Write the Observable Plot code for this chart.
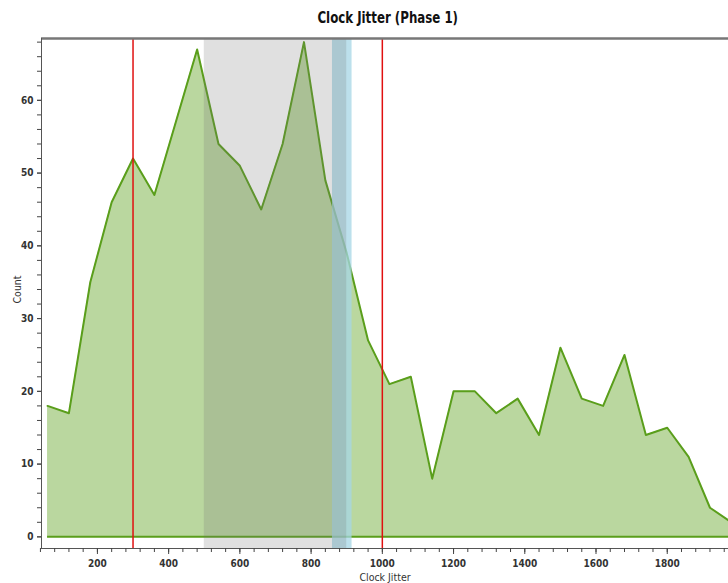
<!DOCTYPE html>
<html>
<head>
<meta charset="utf-8">
<script src="https://cdn.jsdelivr.net/npm/d3@7"></script>
<script src="https://cdn.jsdelivr.net/npm/@observablehq/plot@0.6"></script>
<style>
  html, body { margin: 0; padding: 0; background: #fff; }
  #title { height: 30px; line-height: 36px; text-align: center; padding-left: 48px;
           font-family: "DejaVu Sans Condensed", "DejaVu Sans", sans-serif;
           font-weight: bold; font-size: 16px; color: #111; }
  #title span { display: inline-block; transform: scaleX(0.82); }
  #chart svg { display: block; }
</style>
</head>
<body>
<div id="title"><span>Clock Jitter (Phase 1)</span></div>
<div id="chart"></div>
<script>
// Histogram bins (Clock Jitter) and counts
const bins = [60,120,180,240,300,360,420,480,540,600,660,720,780,840,900,960,1020,1080,1140,1200,1260,1320,1380,1440,1500,1560,1620,1680,1740,1800,1860,1920,1980];
const counts = [18,17,35,46,52,47,57,67,54,51,45,54,68,49,39,27,21,22,8,20,20,17,19,14,26,19,18,25,14,15,11,4,2];

// Limit markers and highlighted ranges
const limitLines = [300, 1000];
const grayBand = [{x1: 500, x2: 900}];
const blueBand = [{x1: 860, x2: 915}];

// Axis domains and ticks
const xDomain = [43, 1972];
const yDomain = [-1.6, 68.5];
const xMajor = [200,400,600,800,1000,1200,1400,1600,1800];
const xMinor = d3.range(40, 1972, 40);
const yMajor = [0,10,20,30,40,50,60];
const yMinor = d3.range(0, 69, 2);

const data = bins.map((b, i) => ({x: b, y: counts[i]}));
const font = '"DejaVu Sans Condensed", "DejaVu Sans", sans-serif';

const chart = Plot.plot({
  width: 728,
  height: 553,
  marginTop: 8,
  marginBottom: 35,
  marginLeft: 41,
  marginRight: 0,
  style: {fontFamily: font, fontSize: "10px", color: "#222", background: "#fff"},
  x: {domain: xDomain},
  y: {domain: yDomain},
  marks: [
    Plot.areaY(data, {x: "x", y: "y", fill: "#bad79f", clip: true}),
    Plot.ruleY([0], {x1: bins[0], x2: bins[bins.length - 1], stroke: "#5a9e1b", strokeWidth: 2, clip: true}),
    Plot.lineY(data, {x: "x", y: "y", stroke: "#5a9e1b", strokeWidth: 2, clip: true}),
    Plot.rect(blueBand, {x1: "x1", x2: "x2", fill: "#a6d6e6", fillOpacity: 0.75}),
    Plot.rect(grayBand, {x1: "x1", x2: "x2", fill: "#707070", fillOpacity: 0.22}),
    Plot.ruleX(limitLines, {stroke: "#e01010", strokeWidth: 1.5}),
    // frame lines
    Plot.ruleY([yDomain[1]], {stroke: "#777", strokeWidth: 2.5}),
    Plot.ruleY([yDomain[0]], {stroke: "#555", strokeWidth: 1}),
    Plot.ruleX([xDomain[0]], {stroke: "#555", strokeWidth: 1}),
    // axes
    Plot.axisX({ticks: xMinor, tickSize: 4, text: null, stroke: "#444", label: null}),
    Plot.axisX({ticks: xMajor, tickSize: 6, tickPadding: 5, stroke: "#444", fontWeight: "bold", fill: "#333",
                label: null, tickFormat: d => String(d)}),
    Plot.text(["Clock Jitter"], {frameAnchor: "bottom", dy: 32, fill: "#333", fontSize: 10.5}),
    Plot.axisY({ticks: yMinor, tickSize: 4, text: null, stroke: "#444", label: null}),
    Plot.axisY({ticks: yMajor, tickSize: 4, tickPadding: 4, stroke: "#444", fontWeight: "bold", fill: "#333",
                label: null}),
    Plot.text(["Count"], {frameAnchor: "left", dx: -24, dy: 10, rotate: -90, fill: "#333", fontSize: 10.5})
  ]
});
document.getElementById("chart").appendChild(chart);
</script>
</body>
</html>
